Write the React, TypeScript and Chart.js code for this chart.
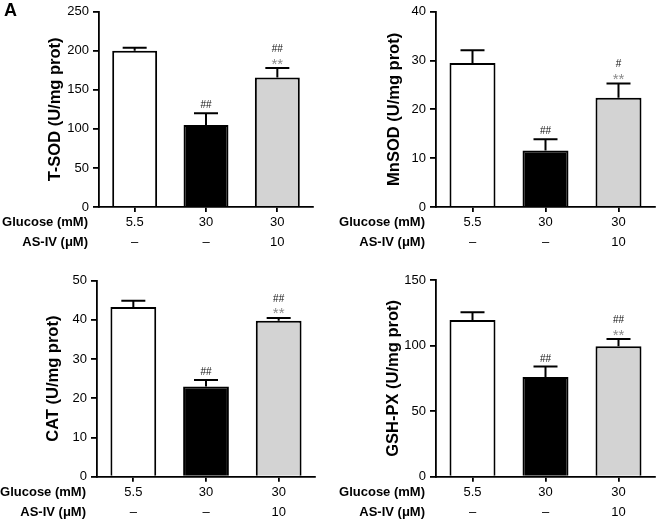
import React, { useEffect, useRef } from "react";
import { Chart, registerables } from "chart.js";

Chart.register(...registerables);

// ---- data ----
const glucoseLabels = ["5.5", "30", "30"];
const asivLabels = ["–", "–", "10"];
const rowTitles = ["Glucose (mM)", "AS-IV (μM)"];
const barColors = ["#ffffff", "#000000", "#d3d3d3"];

const tsodValues = [200, 105, 166];
const tsodErrors = [4, 15, 12];
const tsodHash = ["", "##", "##"];
const tsodStars = ["", "", "**"];

const mnsodValues = [29.5, 11.6, 22.4];
const mnsodErrors = [2.6, 2.3, 2.9];
const mnsodHash = ["", "##", "#"];
const mnsodStars = ["", "", "**"];

const catValues = [43.3, 23.0, 39.8];
const catErrors = [1.6, 1.7, 0.7];
const catHash = ["", "##", "##"];
const catStars = ["", "", "**"];

const gshValues = [119.5, 76, 99.5];
const gshErrors = [6, 8, 5.5];
const gshHash = ["", "##", "##"];
const gshStars = ["", "", "**"];

const FONT = "'Liberation Sans', Arial, Helvetica, sans-serif";

type Panel = {
  title: string;
  values: number[];
  errors: number[];
  hash: string[];
  stars: string[];
  max: number;
  step: number;
  x: number;
  y: number;
  area: { left: number; top: number; right: number; bottom: number };
  titleX: number;
  showA?: boolean;
};

const W = 328;
const H = 260;

const panels: Panel[] = [
  {
    title: "T-SOD (U/mg prot)", values: tsodValues, errors: tsodErrors, hash: tsodHash, stars: tsodStars,
    max: 250, step: 50, x: 0, y: 0,
    area: { left: 99, top: 9, right: 313, bottom: 207 }, titleX: 55, showA: true,
  },
  {
    title: "MnSOD (U/mg prot)", values: mnsodValues, errors: mnsodErrors, hash: mnsodHash, stars: mnsodStars,
    max: 40, step: 10, x: 328, y: 0,
    area: { left: 108, top: 10, right: 327, bottom: 207 }, titleX: 66,
  },
  {
    title: "CAT (U/mg prot)", values: catValues, errors: catErrors, hash: catHash, stars: catStars,
    max: 50, step: 10, x: 0, y: 260,
    area: { left: 97, top: 20.7, right: 315, bottom: 216.7 }, titleX: 53,
  },
  {
    title: "GSH-PX (U/mg prot)", values: gshValues, errors: gshErrors, hash: gshHash, stars: gshStars,
    max: 150, step: 50, x: 328, y: 260,
    area: { left: 108, top: 20, right: 327, bottom: 216.7 }, titleX: 65,
  },
];

const X_TICK_LEN = 5;
const X_TICK_PAD = 1;
const X_LINE_H = 19.6;
const TITLE_SIZE = 16.5;

function PanelChart({ p }: { p: Panel }) {
  const ref = useRef<HTMLCanvasElement | null>(null);

  useEffect(() => {
    if (!ref.current) return;
    const padLeft = p.titleX - (4 + (TITLE_SIZE * 1.2) / 2);

    const overlay = {
      id: "overlay",
      afterDatasetsDraw(chart: any) {
        const ctx = chart.ctx;
        const ys = chart.scales.y;
        const meta = chart.getDatasetMeta(0);
        ctx.save();
        ctx.strokeStyle = "#000";
        ctx.lineWidth = 2;
        meta.data.forEach((el: any, i: number) => {
          const top = ys.getPixelForValue(p.values[i] + p.errors[i]);
          const base = el.y;
          ctx.beginPath();
          ctx.moveTo(el.x, base);
          ctx.lineTo(el.x, top);
          ctx.moveTo(el.x - 12, top);
          ctx.lineTo(el.x + 12, top);
          ctx.stroke();
          ctx.textAlign = "center";
          if (p.stars[i]) {
            ctx.fillStyle = "#8a8a8a";
            ctx.font = `15px ${FONT}`;
            ctx.textBaseline = "alphabetic";
            ctx.fillText(p.stars[i], el.x, top + 0.5);
          }
          if (p.hash[i]) {
            ctx.fillStyle = "#111";
            ctx.font = `10px ${FONT}`;
            ctx.textBaseline = "alphabetic";
            const cy = p.stars[i] ? top - 20 : top - 8.5;
            ctx.fillText(p.hash[i], el.x, cy + 3.6);
          }
        });
        ctx.restore();
      },
      afterDraw(chart: any) {
        const ctx = chart.ctx;
        const xs = chart.scales.x;
        ctx.save();
        ctx.fillStyle = "#000";
        ctx.font = `bold 13px ${FONT}`;
        ctx.textAlign = "right";
        ctx.textBaseline = "middle";
        const y0 = xs.top + X_TICK_LEN + X_TICK_PAD + X_LINE_H / 2;
        rowTitles.forEach((t, r) => {
          ctx.fillText(t, chart.chartArea.left - 11, y0 + r * X_LINE_H);
        });
        if (p.showA) {
          ctx.textAlign = "left";
          ctx.textBaseline = "alphabetic";
          ctx.font = `bold 18px ${FONT}`;
          ctx.fillText("A", 4, 16);
        }
        ctx.restore();
      },
    };

    const chart = new Chart(ref.current, {
      type: "bar",
      data: {
        labels: glucoseLabels,
        datasets: [
          {
            data: p.values,
            backgroundColor: barColors,
            borderColor: "#000",
            borderWidth: 2,
            barPercentage: 0.63,
            categoryPercentage: 1,
          },
        ],
      },
      options: {
        responsive: false,
        animation: false,
        devicePixelRatio: 1,
        layout: {
          padding: { left: padLeft, top: p.area.top, right: W - p.area.right, bottom: 0 },
        },
        plugins: { legend: { display: false }, tooltip: { enabled: false } },
        scales: {
          x: {
            offset: true,
            grid: {
              display: true,
              offset: false,
              drawOnChartArea: false,
              drawTicks: true,
              tickLength: X_TICK_LEN,
              color: "#000",
              lineWidth: 1.8,
            },
            border: { display: true, color: "#000", width: 1.8 },
            ticks: {
              color: "#000",
              padding: X_TICK_PAD,
              maxRotation: 0,
              autoSkip: false,
              font: { family: FONT, size: 13, lineHeight: X_LINE_H / 13 },
              callback: (_v: any, i: number) => [glucoseLabels[i], asivLabels[i]],
            },
            afterFit: (s: any) => {
              s.height = H - p.area.bottom;
            },
          },
          y: {
            min: 0,
            max: p.max,
            grid: {
              display: true,
              drawOnChartArea: false,
              drawTicks: true,
              tickLength: 6,
              color: "#000",
              lineWidth: 1.8,
            },
            border: { display: true, color: "#000", width: 1.8 },
            ticks: {
              stepSize: p.step,
              color: "#000",
              padding: 4,
              font: { family: FONT, size: 13 },
            },
            title: {
              display: true,
              text: p.title,
              color: "#000",
              font: { family: FONT, size: TITLE_SIZE, weight: "bold" },
              padding: { top: 4, bottom: 0 },
            },
            afterFit: (s: any) => {
              s.width = p.area.left - padLeft;
            },
          },
        },
      },
      plugins: [overlay],
    } as any);
    return () => chart.destroy();
  }, [p]);

  return (
    <canvas
      ref={ref}
      width={W}
      height={H}
      style={{ position: "absolute", left: p.x, top: p.y, width: W, height: H }}
    />
  );
}

export default function App() {
  return (
    <div style={{ position: "absolute", left: 0, top: 0, width: 656, height: 520, background: "#fff" }}>
      {panels.map((p, i) => (
        <PanelChart key={i} p={p} />
      ))}
    </div>
  );
}
